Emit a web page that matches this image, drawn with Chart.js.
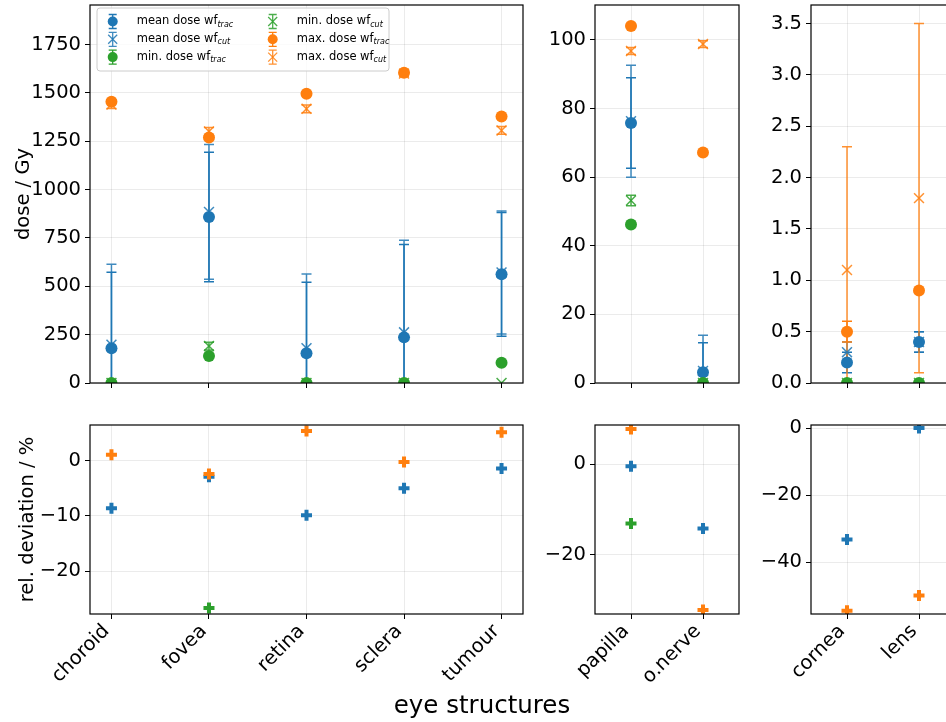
<!DOCTYPE html>
<html lang="en">
<head>
<meta charset="UTF-8">
<title>Dose per eye structure</title>
<script src="https://cdn.jsdelivr.net/npm/chart.js"></script>
<style>
  html, body { margin: 0; padding: 0; background: #fff; }
  #fig { position: relative; width: 946px; height: 722px; overflow: hidden; font-family: 'DejaVu Sans', sans-serif; }
  #fig canvas { position: absolute; }
  #xlabel { position: absolute; left: 0; width: 964px; top: 690px; text-align: center; font-size: 24.5px; color: #000; }
</style>
</head>
<body>
<div id="fig">
  <canvas id="topA"></canvas>
  <canvas id="topB"></canvas>
  <canvas id="topC"></canvas>
  <canvas id="botA"></canvas>
  <canvas id="botB"></canvas>
  <canvas id="botC"></canvas>
  <div id="xlabel">eye structures</div>
</div>

<script>
// ---- data ----
const structures = ['choroid', 'fovea', 'retina', 'sclera', 'tumour', 'papilla', 'o.nerve', 'cornea', 'lens'];

// dose / Gy
const meanTrac    = [180, 859, 154, 236, 562, 75.8, 3.1, 0.2, 0.4];
const meanTracErr = [393, 335, 367, 480, 320, 13.2, 8.6, 0.1, 0.1];
const meanCut     = [198, 885, 180, 262, 572, 76.3, 3.5, 0.3, 0.4];
const meanCutErr  = [416, 348, 384, 476, 318, 16.3, 10.4, 0.1, 0.1];
const minTrac     = [0, 140, 0, 0, 105, 46.2, 0, 0, 0];
const minTracErr  = [0, 0, 0, 0, 0, 0, 0, 0, 0];
const minCut      = [0, 191, 0, 0, 0, 53.2, 0, 0, 0];
const minCutErr   = [0, 20, 0, 0, 0, 1.5, 0, 0, 0];
const maxTrac     = [1455, 1270, 1496, 1604, 1378, 104.1, 67.2, 0.5, 0.9];
const maxTracErr  = [0, 0, 0, 0, 0, 0, 0, 0.1, 0];
const maxCut      = [1440, 1301, 1418, 1600, 1306, 96.8, 98.8, 1.1, 1.8];
const maxCutErr   = [20, 20, 20, 15, 20, 1, 1, 1.2, 1.7];

// rel. deviation / %  (null = not defined)
const relMean = [-8.6, -2.9, -9.9, -5.0, -1.4, -0.5, -14.2, -33.3, 0];
const relMin  = [null, -26.7, null, null, null, -13.1, null, null, null];
const relMax  = [1.1, -2.4, 5.4, -0.2, 5.2, 7.7, -32.1, -54.5, -50];

// tick labels
const doseTicksA = [0, 250, 500, 750, 1000, 1250, 1500, 1750];
const doseTicksB = [0, 20, 40, 60, 80, 100];
const doseTicksC = [0, 0.5, 1.0, 1.5, 2.0, 2.5, 3.0, 3.5];
const relTicksA = [-20, -10, 0];
const relTicksB = [-20, 0];
const relTicksC = [-40, -20, 0];

// ---- styling / layout ----
const BLUE = '#1f77b4', ORANGE = '#ff7f0e', GREEN = '#2ca02c';
const BLUE_A = 'rgba(31,119,180,0.85)', ORANGE_A = 'rgba(255,127,14,0.85)', GREEN_A = 'rgba(44,160,44,0.85)';
const GRID = 'rgba(0,0,0,0.08)';
const FONT_SIZE = 19.5;
const PAD = { left: 10, top: 20, right: 20, bottom: 25 };
const Y_AXIS_W = 80;
const ROWS = {
  top: { plotTop: 5, plotH: 378, xH: 10 },
  bot: { plotTop: 425, plotH: 189, xH: 100 }
};

Chart.defaults.font.family = "'DejaVu Sans', sans-serif";
Chart.defaults.font.size = FONT_SIZE;
Chart.defaults.color = '#000';

const doseSeries = [
  { label: 'mean dose wf', sub: 'trac', values: meanTrac, err: meanTracErr, color: BLUE, style: 'circle' },
  { label: 'mean dose wf', sub: 'cut', values: meanCut, err: meanCutErr, color: BLUE_A, style: 'crossRot' },
  { label: 'min. dose wf', sub: 'trac', values: minTrac, err: minTracErr, color: GREEN, style: 'circle' },
  { label: 'min. dose wf', sub: 'cut', values: minCut, err: minCutErr, color: GREEN_A, style: 'crossRot' },
  { label: 'max. dose wf', sub: 'trac', values: maxTrac, err: maxTracErr, color: ORANGE, style: 'circle' },
  { label: 'max. dose wf', sub: 'cut', values: maxCut, err: maxCutErr, color: ORANGE_A, style: 'crossRot' }
];
const relSeries = [
  { values: relMean, color: BLUE },
  { values: relMin, color: GREEN },
  { values: relMax, color: ORANGE }
];

const panels = [
  { key: 'A', idx: [0, 1, 2, 3, 4], left: 90, width: 433, xMin: -0.22, xMax: 4.22,
    dose: { min: 0, max: 1955, ticks: doseTicksA, dec: 0 }, rel: { min: -27.8, max: 6.5, ticks: relTicksA } },
  { key: 'B', idx: [5, 6], left: 595, width: 144, xMin: -0.5, xMax: 1.5,
    dose: { min: 0, max: 110.2, ticks: doseTicksB, dec: 0 }, rel: { min: -33, max: 8.6, ticks: relTicksB } },
  { key: 'C', idx: [7, 8], left: 811, width: 144, xMin: -0.5, xMax: 1.5,
    dose: { min: 0, max: 3.68, ticks: doseTicksC, dec: 1 }, rel: { min: -55.5, max: 0.9, ticks: relTicksC } }
];

const fmt = (v, dec) => Number(v).toFixed(dec).replace('-', '\u2212');

// vertical error bars with caps
const errorBars = {
  id: 'errorBars',
  beforeDatasetsDraw(chart) {
    const { ctx, chartArea, scales } = chart;
    ctx.save();
    ctx.beginPath();
    ctx.rect(chartArea.left, chartArea.top, chartArea.width, chartArea.height);
    ctx.clip();
    chart.data.datasets.forEach((ds, i) => {
      if (!ds.err) return;
      const meta = chart.getDatasetMeta(i);
      ctx.strokeStyle = ds.borderColor;
      ctx.lineWidth = 1.5;
      meta.data.forEach((pt, j) => {
        const e = ds.err[j];
        if (!e) return;
        const v = ds.data[j].y;
        const y0 = scales.y.getPixelForValue(v - e);
        const y1 = scales.y.getPixelForValue(v + e);
        ctx.beginPath();
        ctx.moveTo(pt.x, y0); ctx.lineTo(pt.x, y1);
        ctx.moveTo(pt.x - 5, y0); ctx.lineTo(pt.x + 5, y0);
        ctx.moveTo(pt.x - 5, y1); ctx.lineTo(pt.x + 5, y1);
        ctx.stroke();
      });
    });
    ctx.restore();
  }
};

// full box around the plot area, like matplotlib spines
const frame = {
  id: 'frame',
  afterDatasetsDraw(chart) {
    const { ctx, chartArea: a } = chart;
    ctx.save();
    ctx.strokeStyle = '#000';
    ctx.lineWidth = 1.2;
    ctx.strokeRect(a.left, a.top, a.width, a.height);
    ctx.restore();
  }
};

// legend with subscripts, drawn into the first panel
const legendBox = {
  id: 'legendBox',
  afterDraw(chart) {
    const { ctx, chartArea: a } = chart;
    const bx = a.left + 7, by = a.top + 3, bw = 292, bh = 63;
    ctx.save();
    ctx.fillStyle = 'rgba(255,255,255,0.8)';
    ctx.strokeStyle = '#cccccc';
    ctx.lineWidth = 1;
    ctx.beginPath();
    ctx.roundRect(bx, by, bw, bh, 3);
    ctx.fill();
    ctx.stroke();
    doseSeries.forEach((s, i) => {
      const col = Math.floor(i / 3), row = i % 3;
      const hx = a.left + 22.7 + col * 160;
      const ty = a.top + 16.5 + row * 17.8;
      const tx = a.left + 46.7 + col * 160;
      ctx.strokeStyle = s.color;
      ctx.fillStyle = s.color;
      ctx.lineWidth = 1.3;
      ctx.beginPath();
      ctx.moveTo(hx, ty - 7); ctx.lineTo(hx, ty + 7);
      ctx.moveTo(hx - 4, ty - 7); ctx.lineTo(hx + 4, ty - 7);
      ctx.moveTo(hx - 4, ty + 7); ctx.lineTo(hx + 4, ty + 7);
      ctx.stroke();
      if (s.style === 'circle') {
        ctx.beginPath();
        ctx.arc(hx, ty, 5, 0, Math.PI * 2);
        ctx.fill();
      } else {
        ctx.beginPath();
        ctx.moveTo(hx - 4.5, ty - 4.5); ctx.lineTo(hx + 4.5, ty + 4.5);
        ctx.moveTo(hx - 4.5, ty + 4.5); ctx.lineTo(hx + 4.5, ty - 4.5);
        ctx.stroke();
      }
      ctx.fillStyle = '#000';
      ctx.textBaseline = 'middle';
      ctx.textAlign = 'left';
      ctx.font = "11.5px 'DejaVu Sans'";
      ctx.fillText(s.label, tx, ty);
      const w = ctx.measureText(s.label).width;
      ctx.font = "italic 8px 'DejaVu Sans'";
      ctx.fillText(s.sub, tx + w, ty + 3);
    });
    ctx.restore();
  }
};

function xAxis(p, row, showLabels) {
  const names = p.idx.map(k => structures[k]);
  return {
    type: 'linear', min: p.xMin, max: p.xMax,
    afterBuildTicks: s => { s.ticks = names.map((_, i) => ({ value: i })); },
    afterFit: s => { s.height = row.xH; },
    ticks: { display: showLabels, autoSkip: false, minRotation: 45, maxRotation: 45, padding: 1,
             labelOffset: -5, callback: v => names[v] },
    grid: { color: GRID, tickColor: '#000', tickLength: 5, tickWidth: 1 },
    border: { display: false }
  };
}

function yAxis(cfg, dec, title, titlePad) {
  return {
    type: 'linear', min: cfg.min, max: cfg.max,
    afterBuildTicks: s => { s.ticks = cfg.ticks.map(v => ({ value: v })); },
    afterFit: s => { s.width = Y_AXIS_W; },
    ticks: { padding: 4, callback: v => fmt(v, dec) },
    grid: { color: GRID, tickColor: '#000', tickLength: 5, tickWidth: 1 },
    border: { display: false },
    title: title ? { display: true, text: title, font: { size: FONT_SIZE }, padding: { top: titlePad } } : { display: false }
  };
}

function makeChart(id, p, row, datasets, scales, extra) {
  const cv = document.getElementById(id);
  cv.width = PAD.left + Y_AXIS_W + p.width + PAD.right;
  cv.height = PAD.top + row.plotH + row.xH + PAD.bottom;
  cv.style.left = (p.left - Y_AXIS_W - PAD.left) + 'px';
  cv.style.top = (row.plotTop - PAD.top) + 'px';
  return new Chart(cv, {
    type: 'scatter',
    data: { datasets },
    options: {
      responsive: false,
      animation: false,
      events: [],
      layout: { padding: PAD },
      plugins: { legend: { display: false }, tooltip: { enabled: false } },
      scales
    },
    plugins: [errorBars, frame].concat(extra || [])
  });
}

panels.forEach(p => {
  const doseSets = doseSeries.map((s, i) => ({
    label: s.label + ' ' + s.sub,
    data: p.idx.map((k, j) => ({ x: j, y: s.values[k] })),
    err: p.idx.map(k => s.err[k]),
    pointStyle: s.style,
    pointRadius: s.style === 'circle' ? 6 : 7,
    borderWidth: s.style === 'circle' ? 0 : 1.5,
    backgroundColor: s.color,
    borderColor: s.color,
    order: doseSeries.length - i,
    clip: 0
  }));
  makeChart('top' + p.key, p, ROWS.top, doseSets, {
    x: xAxis(p, ROWS.top, false),
    y: yAxis(p.dose, p.dose.dec, p.key === 'A' ? 'dose / Gy' : null, 2)
  }, p.key === 'A' ? [legendBox] : []);

  const relSets = relSeries.map((s, i) => ({
    data: p.idx.map((k, j) => ({ x: j, y: s.values[k] })).filter(d => d.y !== null),
    pointStyle: 'cross',
    pointRadius: 5.5,
    borderWidth: 4,
    backgroundColor: s.color,
    borderColor: s.color,
    order: relSeries.length - i,
    clip: 0
  }));
  makeChart('bot' + p.key, p, ROWS.bot, relSets, {
    x: xAxis(p, ROWS.bot, true),
    y: yAxis(p.rel, 0, p.key === 'A' ? 'rel. deviation / %' : null, 6)
  });
});
</script>
</body>
</html>
